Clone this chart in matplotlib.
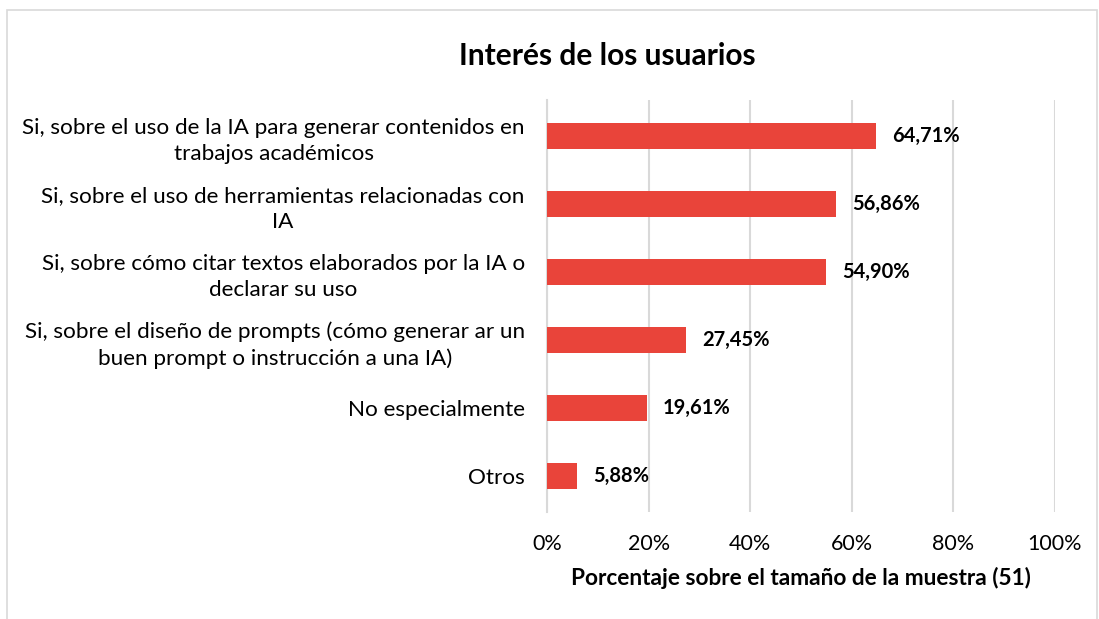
import matplotlib.pyplot as plt
from matplotlib.patches import Rectangle

categorias = [
    "Si, sobre el uso de la IA para generar contenidos en\ntrabajos académicos",
    "Si, sobre el uso de herramientas relacionadas con\nIA",
    "Si, sobre cómo citar textos elaborados por la IA o\ndeclarar su uso",
    "Si, sobre el diseño de prompts (cómo generar ar un\nbuen prompt o instrucción a una IA)",
    "No especialmente",
    "Otros",
]
valores = [64.71, 56.86, 54.90, 27.45, 19.61, 5.88]
ticks = [0, 20, 40, 60, 80, 100]

plt.rcParams['font.family'] = ['Lato', 'DejaVu Sans']

fig = plt.figure(figsize=(10.99, 6.19), dpi=100)
# marco del gráfico
fig.patches.append(Rectangle((7 / 1099, -0.05), (1097 - 7) / 1099, 1.05 - 10 / 619,
                             transform=fig.transFigure, fill=False,
                             edgecolor="#d9d9d9", linewidth=1.2))

ax = fig.add_axes([547 / 1099, 1 - 512 / 619, (1055 - 547) / 1099, 412 / 619])
y = list(range(len(valores)))
ax.barh(y, valores, height=0.38, color="#E9443A", zorder=3)

for yi, v in zip(y, valores):
    ax.text(v + 3.2, yi, f"{v:.2f}%".replace(".", ","), va="center", ha="left",
            fontsize=14.5, fontweight="bold", color="black")

ax.set_xlim(0, 100)
ax.set_ylim(len(valores) - 0.47, -0.53)
ax.set_xticks(ticks)
ax.set_xticklabels([f"{t}%" for t in ticks], fontsize=15.5)
ax.set_yticks(y)
ax.set_yticklabels(categorias, fontsize=16.2, multialignment="center",
                   linespacing=1.4)
ax.tick_params(axis="both", length=0, colors="black")
ax.tick_params(axis="y", pad=16)
ax.tick_params(axis="x", pad=16)
ax.grid(axis="x", color="#d9d9d9", linewidth=1.5, zorder=0)
for s in ["top", "right", "bottom"]:
    ax.spines[s].set_visible(False)
ax.spines["left"].set_color("#d9d9d9")
ax.spines["left"].set_linewidth(1.5)

ax.set_xlabel("Porcentaje sobre el tamaño de la muestra (51)", fontsize=16.3,
              fontweight="bold", labelpad=9)
fig.text(607 / 1099, 1 - 56 / 619, "Interés de los usuarios", ha="center", va="center",
         fontsize=21.5, fontweight="bold")

fig.savefig("out.png", dpi=100)
